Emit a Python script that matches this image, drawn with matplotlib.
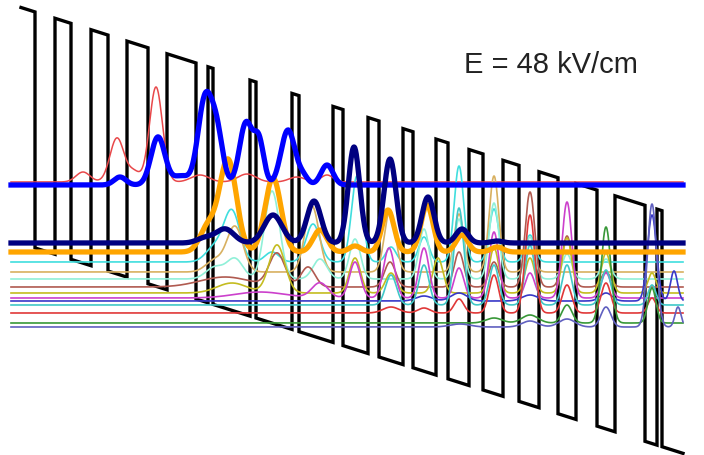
import numpy as np
import matplotlib.pyplot as plt

# conduction band: alternating barrier / well thicknesses (arb. position units)
X_START = 21.0
LAYERS = [14, 20, 16, 20, 17, 19, 21, 19, 29, 12, 5, 37, 6, 36, 7, 34, 10, 25,
          11, 24, 10, 23, 12, 21, 14, 20, 16, 20, 19, 18, 21, 18, 30, 12, 5, 21]
E_START = 211.5      # band edge at X_START
BARRIER = 236.0      # barrier height
SLOPE = 0.317        # field drop per unit position

X_MIN, X_MAX = 11.0, 683.0

# subband levels and |psi|^2 lobes: (centre, height, width)
wavefunctions = [
    # name, colour, lw, level, lobes
    ("red_up", "#e8484a", 1.1, 273, [(83, 10, 7), (117, 44, 7), (134, 10, 6), (156, 95, 6.5),
                                      (200, 7, 9), (247, 8, 9), (297, 5, 8), (327, 7, 6)]),
    ("cyan", "#40dede", 1.2, 193, [(215, 15, 9), (232, 50, 8), (272, 10, 7), (313, 38, 7),
                                    (357, 86, 5.5), (391, 15, 5), (424, 25, 5), (459, 96, 4.8),
                                    (494, 53, 4.8), (530, 27, 4.8)]),
    ("tan", "#d8b060", 1.2, 183, [(215, 12, 9), (235, 45, 8), (312, 66, 7), (390, 62, 5.5),
                                   (459, 58, 4.8), (494, 96, 4.8), (530, 20, 4.8)]),
    ("aqua", "#90f0d8", 1.2, 176, [(215, 12, 9), (235, 20, 8), (272, 88, 7.5), (320, 20, 7),
                                    (355, 40, 5.5), (424, 50, 5), (459, 60, 4.8),
                                    (494, 76, 4.8), (530, 42, 4.8), (567, 25, 4.8),
                                    (606, 20, 4.8)]),
    ("brown", "#b05a50", 1.2, 168, [(225, 10, 25), (277, 33, 8), (308, 20, 7), (390, 25, 5.5),
                                     (459, 35, 4.8), (494, 25, 4.8), (530, 95, 4.8),
                                     (567, 51, 4.8), (606, 15, 4.8)]),
    ("olive", "#c4bc20", 1.2, 162, [(232, 10, 15), (277, 48, 8), (355, 35, 5.5), (391, 20, 5.5),
                                     (438, 35, 5), (494, 45, 4.8), (530, 35, 4.8),
                                     (567, 55, 4.8), (606, 40, 4.8), (652, 20, 4)]),
    ("magenta", "#cc40cc", 1.2, 157, [(260, 6, 25), (320, 15, 8), (355, 36, 5.5), (389, 50, 5.5),
                                       (424, 50, 5), (459, 30, 4.8), (494, 66, 4.8),
                                       (530, 25, 4.8), (567, 96, 4.8), (606, 25, 4.8)]),
    ("blue_thin", "#3838c8", 1.2, 154, [(424, 5, 8), (459, 8, 8), (530, 6, 8), (606, 8, 6),
                                         (652, 86, 4.5), (674, 30, 3.5)]),
    ("turq", "#40c8c8", 1.2, 150, [(391, 30, 5.5), (424, 40, 5), (459, 97, 4.8), (494, 40, 4.8),
                                    (530, 60, 4.8), (567, 40, 4.8), (606, 35, 4.8),
                                    (652, 20, 4)]),
    ("red", "#e03838", 1.2, 142, [(391, 6, 8), (424, 5, 6), (459, 14, 4.8), (494, 38, 4.8),
                                   (530, 98, 4.8), (567, 28, 4.8), (606, 30, 4.8),
                                   (652, 15, 4)]),
    ("green", "#389838", 1.2, 132, [(494, 5, 8), (530, 8, 8), (567, 18, 5), (606, 96, 4.8),
                                     (652, 35, 4)]),
    ("slate", "#6060c0", 1.2, 128, [(460, 3, 10), (530, 6, 8), (567, 8, 8), (606, 20, 5),
                                     (652, 123, 4.5), (678, 20, 3)]),
    ("orange", "#ffa500", 3.8, 203, [(208, 25, 8), (228, 92, 8.5), (273, 74, 8),
                                      (320, 22, 7), (355, 6, 6), (388, 42, 6), (427, 47, 6),
                                      (462, 17, 6), (497, 5, 6)]),
    ("blue", "#0000ff", 3.8, 270, [(120, 8, 6), (158, 48, 7), (181, 9, 8), (205, 85, 7),
                                    (217, 48, 6), (246, 62, 6.5), (259, 42, 5), (288, 55, 7),
                                    (303, 8, 5), (327, 20, 6)]),
    ("navy", "#000080", 3.8, 212, [(205, 5, 8), (225, 14, 9), (273, 28, 9), (314, 42, 7),
                                    (354, 96, 5.7), (390, 84, 6), (428, 46, 6), (462, 14, 6),
                                    (497, 2, 6)]),
]

LABEL = "E = 48 kV/cm"

fig = plt.figure(figsize=(7.04, 4.55), dpi=100)
ax = fig.add_axes([0, 0, 1, 1])
ax.set_xlim(0, 704)
ax.set_ylim(0, 455)
ax.axis("off")

# band profile
edges = X_START + np.concatenate([[0], np.cumsum(LAYERS)])
bx, by = [], []
for i in range(len(LAYERS)):
    x0, x1 = edges[i], edges[i + 1]
    top = BARRIER if i % 2 == 0 else 0.0
    bx += [x0, x1]
    by += [E_START - SLOPE * (x0 - X_START) + top, E_START - SLOPE * (x1 - X_START) + top]
ax.plot(bx, by, color="black", lw=2.4, zorder=1, solid_joinstyle="miter")

x = np.linspace(X_MIN, X_MAX, 2000)
zorders = {"orange": 3, "blue": 4, "navy": 5}
for name, col, lw, level, lobes in wavefunctions:
    y = np.full_like(x, float(level))
    for c, h, s in lobes:
        y += h * np.exp(-0.5 * ((x - c) / s) ** 2)
    ax.plot(x, y, color=col, lw=lw, zorder=zorders.get(name, 2))

ax.text(551, 382, LABEL, ha="center", va="baseline", fontsize=21,
        family="Liberation Sans", color="#222222")

fig.savefig("out.png", dpi=100)
